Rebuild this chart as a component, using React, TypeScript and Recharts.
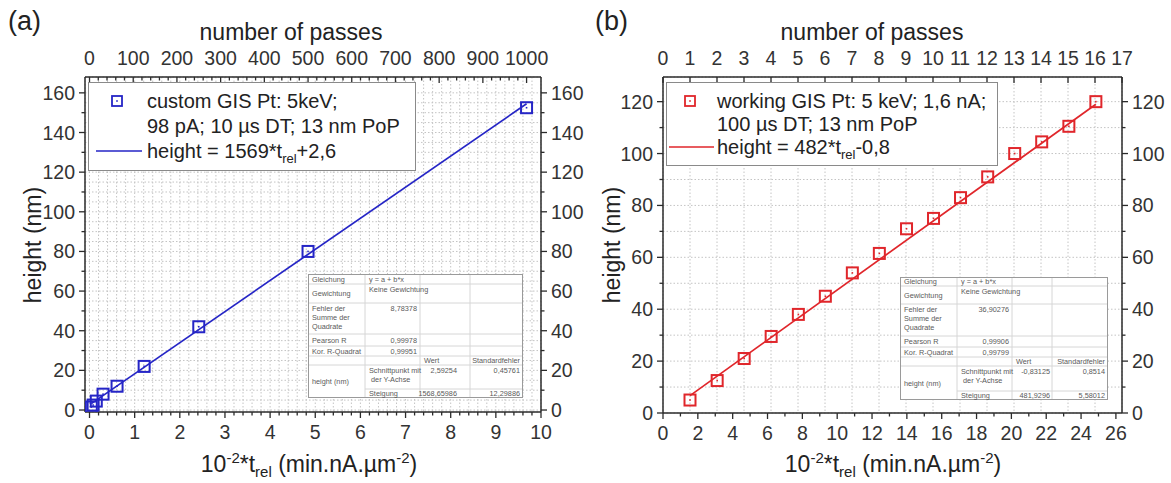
import React from "react";
import { ScatterChart, Scatter, XAxis, YAxis, CartesianGrid } from "recharts";

const FONT = '"Liberation Sans", Arial, Helvetica, sans-serif';
const INK = "#2b2b2b";
const GRID = "#c4c4c4";
const BLUE = "#2525c6";
const RED = "#e0262b";

// (a) custom GIS: x is 10^-2 * t_rel, y is deposit height in nm
const tRelA = [0.04, 0.08, 0.15, 0.3, 0.61, 1.21, 2.42, 4.84, 9.68];
const heightA = [1.5, 2.5, 4.5, 8, 12, 22, 42, 80, 152.5];
const fitTA = [0.04, 9.68];
const fitHA = [3.2, 154.5];

// (b) working GIS
const tRelB = [1.55, 3.11, 4.66, 6.21, 7.77, 9.32, 10.87, 12.42, 13.98, 15.53, 17.08, 18.64, 20.19, 21.74, 23.3, 24.85];
const heightB = [5, 12.5, 21, 29.5, 38, 45, 54, 61.5, 71, 75, 83, 91, 100, 104.5, 110.5, 120];
const fitTB = [1.55, 24.85];
const fitHB = [6.7, 119];

// major tick labels
const tTicksA = [0, 1, 2, 3, 4, 5, 6, 7, 8, 9, 10];
const passTicksA = [0, 100, 200, 300, 400, 500, 600, 700, 800, 900, 1000];
const hTicksA = [0, 20, 40, 60, 80, 100, 120, 140, 160];
const tTicksB = [0, 2, 4, 6, 8, 10, 12, 14, 16, 18, 20, 22, 24, 26];
const passTicksB = [0, 1, 2, 3, 4, 5, 6, 7, 8, 9, 10, 11, 12, 13, 14, 15, 16, 17];
const hTicksB = [0, 20, 40, 60, 80, 100, 120];

// fit report tables
const statsA = {
  rss: "8,78378",
  pearson: "0,99978",
  adjR2: "0,99951",
  intercept: ["2,59254", "0,45761"],
  slope: ["1568,65986", "12,29886"],
};
const statsB = {
  rss: "36,90276",
  pearson: "0,99906",
  adjR2: "0,99799",
  intercept: ["-0,83125", "0,8514"],
  slope: ["481,9296", "5,58012"],
};

// subdivide between majors
const subdivide = (majors: number[], parts: number) => {
  const out: number[] = [];
  majors.forEach((m, i) => {
    out.push(m);
    const next = majors[i + 1];
    if (next === undefined) return;
    for (let k = 1; k < parts; k++) out.push(+(m + ((next - m) * k) / parts).toFixed(6));
  });
  return out;
};

const toPoints = (xs: number[], ys: number[]) => xs.map((x, i) => ({ x, y: ys[i] }));

type Side = "top" | "bottom" | "left" | "right";

const has = (arr: number[], v: number) => arr.some((m) => Math.abs(m - v) < 1e-6);

const TICK_FONT = 19.5;

function axisTick(side: Side, labels: number[], marks: number[]) {
  return (props: any) => {
    const { x, y, payload } = props;
    const v = payload.value;
    const major = has(labels, v);
    if (!major && !has(marks, v)) return <g />;
    const len = major ? 6 : 3.5;
    let line;
    let text = null;
    const ts = { fontFamily: FONT, fontSize: TICK_FONT, fill: "#333" };
    if (side === "bottom") {
      line = <line x1={x} x2={x} y1={y} y2={y + len} stroke={INK} strokeWidth={1.3} />;
      if (major) text = <text x={x} y={y + 27} textAnchor="middle" {...ts}>{v}</text>;
    } else if (side === "top") {
      line = <line x1={x} x2={x} y1={y} y2={y + len} stroke={INK} strokeWidth={1.3} />;
      if (major) text = <text x={x} y={y - 12} textAnchor="middle" {...ts}>{v}</text>;
    } else if (side === "left") {
      line = <line x1={x - len} x2={x} y1={y} y2={y} stroke={INK} strokeWidth={1.3} />;
      if (major) text = <text x={x - 10} y={y + 7} textAnchor="end" {...ts}>{v}</text>;
    } else {
      line = <line x1={x} x2={x + len} y1={y} y2={y} stroke={INK} strokeWidth={1.3} />;
      if (major) text = <text x={x + 10} y={y + 7} textAnchor="start" {...ts}>{v}</text>;
    }
    return (
      <g>
        {line}
        {text}
      </g>
    );
  };
}

const squareMarker = (color: string) => (props: any) => {
  const { cx, cy } = props;
  if (cx == null || cy == null) return <g />;
  return (
    <g>
      <rect x={cx - 5.5} y={cy - 5.5} width={11} height={11} fill="none" stroke={color} strokeWidth={2} />
      <rect x={cx - 0.8} y={cy - 0.8} width={1.6} height={1.6} fill={color} />
    </g>
  );
};

const noMarker = () => <g />;

const AXIS = { stroke: INK, strokeWidth: 1.5 };

type PanelCfg = {
  left: number;
  width: number;
  leftW: number;
  rightW: number;
  topH: number;
  bottomH: number;
  color: string;
  points: { x: number; y: number }[];
  fit: { x: number; y: number }[];
  xDomain: [number, number];
  xTicks: number[];
  xLabels: number[];
  topDomain: [number, number];
  topTicks: number[];
  topLabels: number[];
  yDomain: [number, number];
  yTicks: number[];
  yLabels: number[];
  rTicks: number[];
  gridX: string;
  gridY: string;
};

function Panel(p: PanelCfg) {
  return (
    <div style={{ position: "absolute", left: p.left, top: 0 }}>
      <ScatterChart width={p.width} height={483} margin={{ top: 0, right: 0, bottom: 0, left: 0 }}>
        <CartesianGrid xAxisId={p.gridX} yAxisId={p.gridY} stroke={GRID} strokeDasharray="1.5 2" />
        <XAxis
          xAxisId="b"
          dataKey="x"
          type="number"
          domain={p.xDomain}
          ticks={p.xTicks}
          interval={0}
          height={p.bottomH}
          tickSize={0}
          tickMargin={0}
          tickLine={false}
          axisLine={AXIS}
          tick={axisTick("bottom", p.xLabels, p.xTicks)}
          allowDataOverflow
        />
        <XAxis
          xAxisId="t"
          dataKey="x"
          orientation="top"
          type="number"
          domain={p.topDomain}
          ticks={p.topTicks}
          interval={0}
          height={p.topH}
          tickSize={0}
          tickMargin={0}
          tickLine={false}
          axisLine={AXIS}
          tick={axisTick("top", p.topLabels, p.topTicks)}
          allowDataOverflow
        />
        <YAxis
          yAxisId="l"
          dataKey="y"
          type="number"
          domain={p.yDomain}
          ticks={p.yTicks}
          interval={0}
          width={p.leftW}
          tickSize={0}
          tickMargin={0}
          tickLine={false}
          axisLine={AXIS}
          tick={axisTick("left", p.yLabels, p.yTicks)}
          allowDataOverflow
        />
        <YAxis
          yAxisId="r"
          dataKey="y"
          orientation="right"
          type="number"
          domain={p.yDomain}
          ticks={p.rTicks}
          interval={0}
          width={p.rightW}
          tickSize={0}
          tickMargin={0}
          tickLine={false}
          axisLine={AXIS}
          tick={axisTick("right", p.yLabels, p.yTicks)}
          allowDataOverflow
        />
        {/* keeps the passes axis and the right height axis registered */}
        <Scatter xAxisId="t" yAxisId="r" data={[]} shape={noMarker} isAnimationActive={false} />
        <Scatter
          xAxisId="b"
          yAxisId="l"
          data={p.fit}
          line={{ stroke: p.color, strokeWidth: 1.7 }}
          shape={noMarker}
          isAnimationActive={false}
        />
        <Scatter xAxisId="b" yAxisId="l" data={p.points} shape={squareMarker(p.color)} isAnimationActive={false} />
      </ScatterChart>
    </div>
  );
}

const panelA: PanelCfg = {
  left: 0,
  width: 590,
  leftW: 85,
  rightW: 49,
  topH: 77,
  bottomH: 71,
  color: BLUE,
  points: toPoints(tRelA, heightA),
  fit: toPoints(fitTA, fitHA),
  xDomain: [-0.1, 10],
  xTicks: subdivide(tTicksA, 5),
  xLabels: tTicksA,
  topDomain: [-10.33, 1033],
  topTicks: subdivide(passTicksA, 5),
  topLabels: passTicksA,
  yDomain: [-1, 168],
  yTicks: subdivide(hTicksA, 2),
  yLabels: hTicksA,
  rTicks: subdivide(hTicksA, 4),
  gridX: "b",
  gridY: "r",
};

const panelB: PanelCfg = {
  left: 590,
  width: 581,
  leftW: 73,
  rightW: 49,
  topH: 77,
  bottomH: 70,
  color: RED,
  points: toPoints(tRelB, heightB),
  fit: toPoints(fitTB, fitHB),
  xDomain: [0, 26.35],
  xTicks: subdivide(tTicksB, 2),
  xLabels: tTicksB,
  topDomain: [0, 17],
  topTicks: passTicksB,
  topLabels: passTicksB,
  yDomain: [0, 129.5],
  yTicks: subdivide(hTicksB, 2),
  yLabels: hTicksB,
  rTicks: subdivide(hTicksB, 2),
  gridX: "t",
  gridY: "l",
};

const abs = (left: number, top: number, extra: React.CSSProperties = {}): React.CSSProperties => ({
  position: "absolute",
  left,
  top,
  whiteSpace: "nowrap",
  ...extra,
});

function Centered({ x, y, size, children }: { x: number; y: number; size: number; children: React.ReactNode }) {
  return (
    <div style={abs(x - 300, y - size * 0.6, { width: 600, textAlign: "center", fontSize: size, lineHeight: 1.2, color: "#222" })}>
      {children}
    </div>
  );
}

function YTitle({ x, y }: { x: number; y: number }) {
  return (
    <div
      style={abs(x - 100, y - 14, {
        width: 200,
        height: 28,
        textAlign: "center",
        fontSize: 23,
        lineHeight: "28px",
        color: "#222",
        transform: "rotate(-90deg)",
      })}
    >
      height (nm)
    </div>
  );
}

const XTitle = () => (
  <>
    10<sup style={{ fontSize: 15 }}>-2</sup>*t<sub style={{ fontSize: 15 }}>rel</sub> (min.nA.µm<sup style={{ fontSize: 15 }}>-2</sup>)
  </>
);

type LegendCfg = {
  left: number;
  top: number;
  width: number;
  height: number;
  color: string;
  markerX: number;
  textX: number;
  lineX: [number, number];
  rows: number[];
  line1: string;
  line2: string;
  fit: [string, string];
};

function LegendBox(l: LegendCfg) {
  const rowStyle = (cy: number): React.CSSProperties =>
    abs(l.textX - l.left, cy - l.top - 12, { fontSize: 20, lineHeight: "24px", color: "#222" });
  return (
    <div
      style={abs(l.left, l.top, {
        width: l.width,
        height: l.height,
        border: "1px solid #8a8a8a",
        background: "#fff",
        boxSizing: "border-box",
      })}
    >
      <svg style={abs(0, 0)} width={l.width} height={l.height}>
        <rect x={l.markerX - l.left - 5} y={l.rows[0] - l.top - 5} width={10} height={10} fill="none" stroke={l.color} strokeWidth={1.8} />
        <rect x={l.markerX - l.left - 0.8} y={l.rows[0] - l.top - 0.8} width={1.6} height={1.6} fill={l.color} />
        <line x1={l.lineX[0] - l.left} x2={l.lineX[1] - l.left} y1={l.rows[2] - l.top} y2={l.rows[2] - l.top} stroke={l.color} strokeWidth={1.7} />
      </svg>
      <div style={rowStyle(l.rows[0])}>{l.line1}</div>
      <div style={rowStyle(l.rows[1])}>{l.line2}</div>
      <div style={rowStyle(l.rows[2])}>
        {l.fit[0]}
        <sub style={{ fontSize: 13 }}>rel</sub>
        {l.fit[1]}
      </div>
    </div>
  );
}

type Stats = typeof statsA;

function FitTable({ left, top, colW, rowH, s, valPad }: { left: number; top: number; colW: number[]; rowH: number[]; s: Stats; valPad: number }) {
  const xs = [0];
  colW.forEach((w) => xs.push(xs[xs.length - 1] + w));
  const ys = [0];
  rowH.forEach((h) => ys.push(ys[ys.length - 1] + h));
  const W = xs[xs.length - 1];
  const H = ys[ys.length - 1];
  const cells: {
    r: number;
    c: number;
    rs?: number;
    text: React.ReactNode;
    align?: "left" | "right" | "center";
    mid?: boolean;
    pr?: number;
  }[] = [
    { r: 0, c: 0, text: "Gleichung", mid: true },
    { r: 0, c: 1, text: "y = a + b*x", mid: true },
    { r: 1, c: 0, text: "Gewichtung", mid: true },
    { r: 1, c: 1, text: "Keine Gewichtung" },
    { r: 2, c: 0, text: <>Fehler der<br />Summe der<br />Quadrate</> },
    { r: 2, c: 1, text: s.rss, align: "right", pr: 3 },
    { r: 3, c: 0, text: "Pearson R", mid: true },
    { r: 3, c: 1, text: s.pearson, align: "right", pr: 3, mid: true },
    { r: 4, c: 0, text: "Kor. R-Quadrat", mid: true },
    { r: 4, c: 1, text: s.adjR2, align: "right", pr: 3, mid: true },
    { r: 5, c: 2, text: "Wert", mid: true },
    { r: 5, c: 3, text: "Standardfehler", mid: true, align: "right", pr: 3 },
    { r: 6, c: 0, rs: 2, text: "height (nm)", mid: true },
    { r: 6, c: 1, text: <>Schnittpunkt mit<br />&nbsp;der Y-Achse</> },
    { r: 6, c: 2, text: s.intercept[0], align: "right", pr: valPad },
    { r: 6, c: 3, text: s.intercept[1], align: "right", pr: 3 },
    { r: 7, c: 1, text: "Steigung", mid: true },
    { r: 7, c: 2, text: s.slope[0], align: "right", pr: valPad, mid: true },
    { r: 7, c: 3, text: s.slope[1], align: "right", pr: 3, mid: true },
  ];
  const inner = "#d6d6d6";
  return (
    <div style={abs(left, top, { width: W, height: H, background: "#fff", fontSize: 7.3, color: "#5a5a5a" })}>
      <svg style={abs(0, 0)} width={W} height={H}>
        {ys.slice(1, -1).map((y, i) =>
          i === 6 ? (
            <line key={"h" + i} x1={xs[1]} x2={W} y1={y} y2={y} stroke={inner} />
          ) : (
            <line key={"h" + i} x1={0} x2={W} y1={y} y2={y} stroke={inner} />
          )
        )}
        {xs.slice(1, -1).map((x, i) => (
          <line key={"v" + i} x1={x} x2={x} y1={0} y2={H} stroke={inner} />
        ))}
        <rect x={0.5} y={0.5} width={W - 1} height={H - 1} fill="none" stroke="#9a9a9a" />
      </svg>
      {cells.map((c, i) => {
        const h = ys[c.r + (c.rs || 1)] - ys[c.r];
        return (
          <div
            key={i}
            style={abs(xs[c.c] + 4, ys[c.r], {
              width: xs[c.c + 1] - xs[c.c] - 4 - (c.pr || 0),
              height: h,
              display: "flex",
              flexDirection: "column",
              justifyContent: c.mid ? "center" : "flex-start",
              alignItems: c.align === "right" ? "flex-end" : c.align === "center" ? "center" : "flex-start",
              lineHeight: "9px",
              paddingTop: c.mid ? 0 : 1,
              boxSizing: "border-box",
            })}
          >
            <div style={{ whiteSpace: "nowrap" }}>{c.text}</div>
          </div>
        );
      })}
    </div>
  );
}

export default function App() {
  return (
    <div
      style={{
        position: "absolute",
        left: 0,
        top: 0,
        width: 1171,
        height: 483,
        background: "#fff",
        fontFamily: FONT,
        overflow: "hidden",
      }}
    >
      <Panel {...panelA} />
      <Panel {...panelB} />

      <div style={abs(8, 6, { fontSize: 27, color: "#222" })}>(a)</div>
      <div style={abs(595, 6, { fontSize: 27, color: "#222" })}>(b)</div>

      <Centered x={291} y={33} size={23}>number of passes</Centered>
      <Centered x={872} y={33} size={23}>number of passes</Centered>
      <Centered x={309} y={463} size={23}><XTitle /></Centered>
      <Centered x={893} y={463} size={23}><XTitle /></Centered>
      <YTitle x={33} y={245} />
      <YTitle x={612} y={245} />

      <LegendBox
        left={88}
        top={82}
        width={328}
        height={89}
        color={BLUE}
        markerX={116}
        textX={146}
        lineX={[95, 141]}
        rows={[100, 125, 150]}
        line1="custom GIS Pt: 5keV;"
        line2="98 pA; 10 µs DT; 13 nm PoP"
        fit={["height = 1569*t", "+2,6"]}
      />
      <LegendBox
        left={666}
        top={82}
        width={332}
        height={84}
        color={RED}
        markerX={689}
        textX={716}
        lineX={[668, 713]}
        rows={[100, 123, 146]}
        line1="working GIS Pt: 5 keV; 1,6 nA;"
        line2="100 µs DT; 13 nm PoP"
        fit={["height = 482*t", "-0,8"]}
      />

      <FitTable left={308} top={274} colW={[57, 55, 50, 53]} rowH={[10, 19, 31, 12, 10, 9, 24, 9]} s={statsA} valPad={13} />
      <FitTable left={900} top={277} colW={[57, 55, 40, 56]} rowH={[9, 18, 32, 11, 10, 9, 25, 9]} s={statsB} valPad={2} />
    </div>
  );
}
